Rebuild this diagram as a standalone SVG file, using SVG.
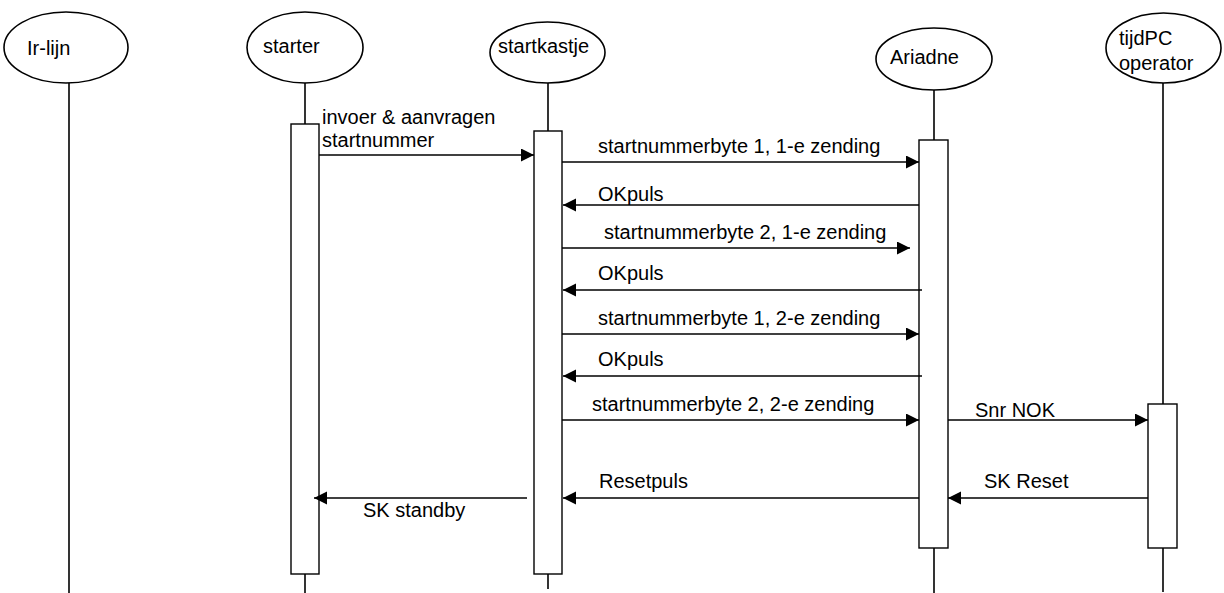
<svg xmlns="http://www.w3.org/2000/svg" width="1224" height="593" viewBox="0 0 1224 593">
<style>
.ell{fill:#fff;stroke:#000;stroke-width:1.6}
.life{stroke:#000;stroke-width:1.6;fill:none}
.act{fill:#fff;stroke:#000;stroke-width:1.4}
.msg{stroke:#000;stroke-width:1.5;fill:none;marker-end:url(#ah)}
text{font-family:"Liberation Sans",Arial,sans-serif;font-size:20px;fill:#000}
</style>
<defs>
<marker id="ah" markerUnits="userSpaceOnUse" markerWidth="14" markerHeight="14" refX="13" refY="6.5" orient="auto">
<path d="M0,0 L13,6.5 L0,13 z" fill="#000"/>
</marker>
</defs>
<rect width="1224" height="593" fill="#fff"/>
<g id="irlijn">
<line class="life" x1="69" y1="83" x2="69" y2="593"/>
<ellipse class="ell" cx="66" cy="47.5" rx="62" ry="35.5"/>
<text x="27" y="55">Ir-lijn</text>
</g>
<g id="starter">
<line class="life" x1="305" y1="83" x2="305" y2="593"/>
<ellipse class="ell" cx="305" cy="47.5" rx="58" ry="35.5"/>
<text x="263" y="53">starter</text>
<rect class="act" x="291" y="124" width="28" height="450"/>
</g>
<g id="startkastje">
<line class="life" x1="548" y1="83" x2="548" y2="589"/>
<ellipse class="ell" cx="547.5" cy="52.5" rx="57.5" ry="30.5"/>
<text x="498" y="53">startkastje</text>
<rect class="act" x="534" y="131" width="28" height="443"/>
</g>
<g id="ariadne">
<line class="life" x1="934" y1="90" x2="934" y2="593"/>
<ellipse class="ell" cx="934" cy="59" rx="58" ry="31"/>
<text x="890" y="64">Ariadne</text>
<rect class="act" x="919" y="140" width="29" height="408"/>
</g>
<g id="tijdpc">
<line class="life" x1="1163" y1="83" x2="1163" y2="592"/>
<ellipse class="ell" cx="1163.5" cy="48" rx="57.5" ry="35"/>
<text x="1119" y="45">tijdPC</text>
<text x="1119" y="70">operator</text>
<rect class="act" x="1148" y="404" width="29" height="144"/>
</g>
<g id="connectors">
<line class="msg" x1="319" y1="155" x2="534" y2="155"/>
<line class="msg" x1="562" y1="162" x2="919" y2="162"/>
<line class="msg" x1="919" y1="205" x2="563" y2="205"/>
<line class="msg" x1="562" y1="248" x2="910" y2="248"/>
<line class="msg" x1="922" y1="290" x2="563" y2="290"/>
<line class="msg" x1="562" y1="334" x2="919" y2="334"/>
<line class="msg" x1="922" y1="376" x2="563" y2="376"/>
<line class="msg" x1="562" y1="420" x2="919" y2="420"/>
<line class="msg" x1="948" y1="420" x2="1148" y2="420"/>
<line class="msg" x1="919" y1="498" x2="563" y2="498"/>
<line class="msg" x1="1148" y1="498" x2="948" y2="498"/>
<line class="msg" x1="527" y1="498" x2="314" y2="498"/>
</g>
<g id="labels">
<text x="322" y="124">invoer &amp; aanvragen</text>
<text x="322" y="147">startnummer</text>
<text x="598" y="153">startnummerbyte 1, 1-e zending</text>
<text x="598" y="201">OKpuls</text>
<text x="604" y="239">startnummerbyte 2, 1-e zending</text>
<text x="598" y="280">OKpuls</text>
<text x="598" y="325">startnummerbyte 1, 2-e zending</text>
<text x="598" y="366">OKpuls</text>
<text x="592" y="411">startnummerbyte 2, 2-e zending</text>
<text x="975" y="417">Snr NOK</text>
<text x="599" y="488">Resetpuls</text>
<text x="984" y="488">SK Reset</text>
<text x="363" y="517">SK standby</text>
</g>
</svg>
